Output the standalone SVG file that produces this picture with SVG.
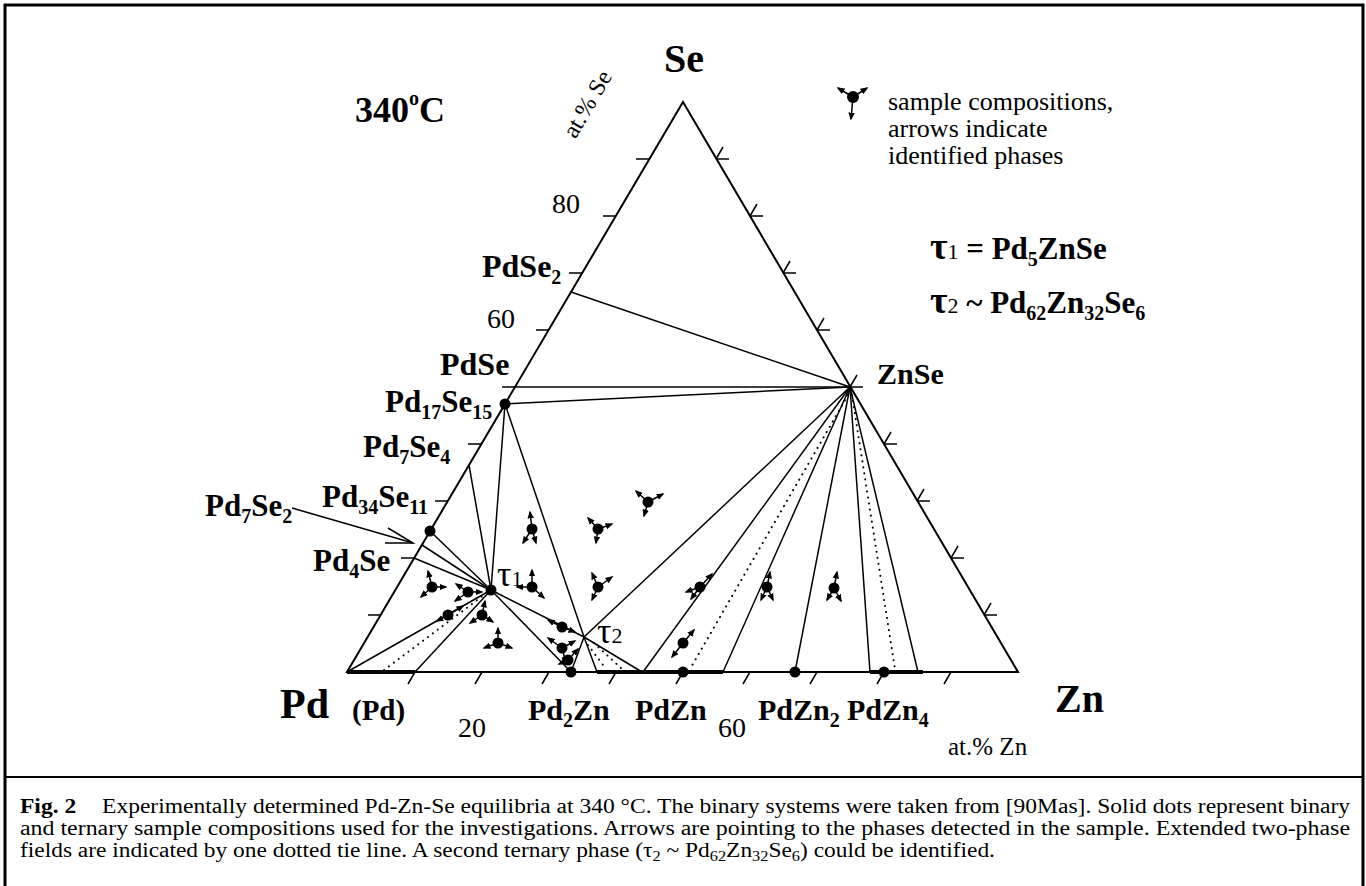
<svg xmlns="http://www.w3.org/2000/svg" width="1366" height="886" viewBox="0 0 1366 886">
<defs>
<marker id="ah" viewBox="0 0 10 10" refX="8" refY="5" markerWidth="8" markerHeight="8" markerUnits="userSpaceOnUse" orient="auto"><path d="M0,1 L10,5 L0,9 z" fill="#000"/></marker>
</defs>
<style>
.edge{stroke:#000;stroke-width:2;fill:none}
.tie{stroke:#000;stroke-width:1.5;fill:none}
.dotl{stroke:#000;stroke-width:2;stroke-dasharray:0.1 6;stroke-linecap:round;fill:none}
.thick{stroke:#000;stroke-width:4}
.tick{stroke:#000;stroke-width:1.5;fill:none}
.ar{stroke:#000;stroke-width:1.5;marker-end:url(#ah)}
.b{font-family:"Liberation Serif",serif;font-weight:bold;fill:#000}
.r{font-family:"Liberation Serif",serif;fill:#000}
</style>
<rect x="0" y="0" width="1366" height="886" fill="#fff"/>
<path d="M5,890V5H1363V890" fill="none" stroke="#000" stroke-width="3"/>
<line x1="5" y1="777" x2="1363" y2="777" stroke="#000" stroke-width="2"/>

<g id="triangle">
<polygon class="edge" points="347,672 1018,672 683,102"/>
<path class="tick" d="M368,615H381M401,558H414M435,501H448M468,444H481M502,387H515M536,330H549M569,273H582M603,216H616M636,159H649"/>
<path class="tick" d="M716,159h13M716,159l7,-12M750,216h13M750,216l7,-12M783,273h13M783,273l7,-12M817,330h13M817,330l7,-12M850,387h13M850,387l7,-12M884,444h13M884,444l7,-12M917,501h13M917,501l7,-12M951,558h13M951,558l7,-12M984,615h13M984,615l7,-12"/>
<path class="tick" d="M415,672l-7,12M482,672l-7,12M549,672l-7,12M616,672l-7,12M683,672l-7,12M750,672l-7,12M817,672l-7,12M884,672l-7,12M951,672l-7,12"/>
<line class="thick" x1="347" y1="672" x2="415" y2="672"/>
<line class="thick" x1="597" y1="672" x2="723" y2="672"/>
<line class="thick" x1="870" y1="672" x2="923" y2="672"/>
</g>

<g id="connectors">
<line class="tie" x1="571" y1="292" x2="850" y2="387"/>
<line class="tie" x1="515" y1="387" x2="850" y2="387"/>
<line class="tie" x1="505" y1="404" x2="850" y2="387"/>
<line class="tie" x1="505" y1="404" x2="491" y2="590"/>
<line class="tie" x1="505" y1="404" x2="584" y2="637"/>
<line class="tie" x1="469" y1="465" x2="491" y2="590"/>
<line class="tie" x1="430" y1="531" x2="491" y2="590"/>
<line class="tie" x1="422" y1="545" x2="491" y2="590"/>
<line class="tie" x1="414" y1="558" x2="491" y2="590"/>
<line class="tie" x1="347" y1="672" x2="491" y2="590"/>
<line class="tie" x1="415" y1="672" x2="491" y2="590"/>
<line class="dotl" x1="384" y1="670" x2="484" y2="595"/>
<line class="tie" x1="491" y1="590" x2="571" y2="672"/>
<line class="tie" x1="491" y1="590" x2="584" y2="637"/>
<line class="tie" x1="584" y1="637" x2="571" y2="672"/>
<line class="tie" x1="584" y1="637" x2="597" y2="672"/>
<line class="tie" x1="584" y1="637" x2="642" y2="672"/>
<line class="dotl" x1="588" y1="645" x2="606" y2="669"/>
<line class="dotl" x1="594" y1="643" x2="622" y2="669"/>
<line class="tie" x1="584" y1="637" x2="850" y2="387"/>
<line class="tie" x1="850" y1="387" x2="643" y2="672"/>
<line class="dotl" x1="848" y1="395" x2="690" y2="669"/>
<line class="tie" x1="850" y1="387" x2="723" y2="672"/>
<line class="tie" x1="850" y1="387" x2="795" y2="672"/>
<line class="tie" x1="850" y1="387" x2="870" y2="672"/>
<line class="dotl" x1="852" y1="395" x2="895" y2="669"/>
<line class="tie" x1="850" y1="387" x2="918" y2="672"/>
<g id="pd7se2-arrow"><line class="tie" x1="292" y1="508" x2="413" y2="543"/><path class="tie" d="M388,528L413,543L385,543"/></g>
</g>

<g id="phase-points" fill="#000">
<circle id="p-pd17se15" cx="505" cy="404" r="5.5"/>
<circle id="p-pd34se11" cx="430" cy="531" r="5.5"/>
<circle id="p-tau1" cx="491" cy="590" r="5.5"/>
<circle id="p-pd2zn" cx="571" cy="672" r="5.5"/>
<circle id="p-pdzn" cx="683" cy="672" r="5.5"/>
<circle id="p-pdzn2" cx="795" cy="672" r="5.5"/>
<circle id="p-pdzn4" cx="884" cy="672" r="5.5"/>
</g>

<g id="samples" fill="#000">
<g id="s1" transform="translate(532,529)"><circle r="5.5"/><line class="ar" x1="0" y1="0" x2="-2" y2="-17"/><line class="ar" x1="0" y1="0" x2="-9" y2="14"/><line class="ar" x1="0" y1="0" x2="4" y2="14"/></g>
<g id="s2" transform="translate(598,529)"><circle r="5.5"/><line class="ar" x1="0" y1="0" x2="-10" y2="-11"/><line class="ar" x1="0" y1="0" x2="14" y2="-5"/><line class="ar" x1="0" y1="0" x2="-2" y2="14"/></g>
<g id="s3" transform="translate(648,502)"><circle r="5.5"/><line class="ar" x1="0" y1="0" x2="-12" y2="-11"/><line class="ar" x1="0" y1="0" x2="15" y2="-8"/><line class="ar" x1="0" y1="0" x2="-4" y2="14"/></g>
<g id="s4" transform="translate(432,587)"><circle r="5.5"/><line class="ar" x1="0" y1="0" x2="-4" y2="-16"/><line class="ar" x1="0" y1="0" x2="14" y2="0"/><line class="ar" x1="0" y1="0" x2="-11" y2="10"/></g>
<g id="s5" transform="translate(468,592)"><circle r="5.5"/><line class="ar" x1="0" y1="0" x2="-12" y2="-8"/><line class="ar" x1="0" y1="0" x2="14" y2="0"/><line class="ar" x1="0" y1="0" x2="-13" y2="9"/></g>
<g id="s6" transform="translate(532,587)"><circle r="5.5"/><line class="ar" x1="0" y1="0" x2="0" y2="-17"/><line class="ar" x1="0" y1="0" x2="-15" y2="0"/><line class="ar" x1="0" y1="0" x2="12" y2="11"/></g>
<g id="s7" transform="translate(598,587)"><circle r="5.5"/><line class="ar" x1="0" y1="0" x2="-6" y2="-14"/><line class="ar" x1="0" y1="0" x2="14" y2="-10"/><line class="ar" x1="0" y1="0" x2="-6" y2="13"/></g>
<g id="s8" transform="translate(448,615)"><circle r="5.5"/><line class="ar" x1="0" y1="0" x2="15" y2="-9"/><line class="ar" x1="0" y1="0" x2="-11" y2="6"/></g>
<g id="s9" transform="translate(482,615)"><circle r="5.5"/><line class="ar" x1="0" y1="0" x2="3" y2="-14"/><line class="ar" x1="0" y1="0" x2="-12" y2="8"/><line class="ar" x1="0" y1="0" x2="11" y2="7"/></g>
<g id="s10" transform="translate(498,643)"><circle r="5.5"/><line class="ar" x1="0" y1="0" x2="0" y2="-15"/><line class="ar" x1="0" y1="0" x2="-14" y2="5"/><line class="ar" x1="0" y1="0" x2="14" y2="5"/></g>
<g id="s11" transform="translate(562,627)"><circle r="5.5"/><line class="ar" x1="0" y1="0" x2="-14" y2="-7"/><line class="ar" x1="0" y1="0" x2="13" y2="5"/></g>
<g id="s12" transform="translate(562,648)"><circle r="5.5"/><line class="ar" x1="0" y1="0" x2="-14" y2="-10"/><line class="ar" x1="0" y1="0" x2="13" y2="-7"/><line class="ar" x1="0" y1="0" x2="4" y2="15"/></g>
<g id="s13" transform="translate(568,660)"><circle r="5.5"/><line class="ar" x1="0" y1="0" x2="10" y2="-11"/><line class="ar" x1="0" y1="0" x2="-9" y2="4"/></g>
<g id="s14" transform="translate(700,587)"><circle r="5.5"/><line class="ar" x1="0" y1="0" x2="12" y2="-13"/><line class="ar" x1="0" y1="0" x2="-14" y2="5"/><line class="ar" x1="0" y1="0" x2="-9" y2="12"/></g>
<g id="s15" transform="translate(767,587)"><circle r="5.5"/><line class="ar" x1="0" y1="0" x2="3" y2="-15"/><line class="ar" x1="0" y1="0" x2="-6" y2="13"/><line class="ar" x1="0" y1="0" x2="6" y2="13"/></g>
<g id="s16" transform="translate(834,588)"><circle r="5.5"/><line class="ar" x1="0" y1="0" x2="3" y2="-16"/><line class="ar" x1="0" y1="0" x2="-7" y2="12"/><line class="ar" x1="0" y1="0" x2="7" y2="13"/></g>
<g id="s17" transform="translate(683,643)"><circle r="5.5"/><line class="ar" x1="0" y1="0" x2="11" y2="-13"/><line class="ar" x1="0" y1="0" x2="-11" y2="14"/></g>
</g>

<g id="labels">
<g id="n-se"><text class="b" x="684" y="72" font-size="40" text-anchor="middle">Se</text></g>
<g id="n-temp"><text class="b" x="355" y="122" font-size="36">340<tspan font-size="20" dy="-17">o</tspan><tspan dy="17">C</tspan></text></g>
<g id="n-atse"><text class="r" font-size="24" text-anchor="middle" transform="translate(594,108) rotate(-59.5)">at.% Se</text></g>
<g id="n-80"><text class="r" x="552" y="213" font-size="28">80</text></g>
<g id="n-60"><text class="r" x="487" y="328" font-size="28">60</text></g>
<g id="n-pdse2"><text class="b" x="482" y="277" font-size="32">PdSe<tspan font-size="20" dy="7">2</tspan></text></g>
<g id="n-pdse"><text class="b" x="440" y="375" font-size="32">PdSe</text></g>
<g id="n-pd17se15"><text class="b" x="385" y="412" font-size="31">Pd<tspan font-size="20" dy="7">17</tspan><tspan dy="-7">Se</tspan><tspan font-size="20" dy="7">15</tspan></text></g>
<g id="n-pd7se4"><text class="b" x="363" y="457" font-size="31">Pd<tspan font-size="20" dy="7">7</tspan><tspan dy="-7">Se</tspan><tspan font-size="20" dy="7">4</tspan></text></g>
<g id="n-pd34se11"><text class="b" x="322" y="507" font-size="31">Pd<tspan font-size="20" dy="7">34</tspan><tspan dy="-7">Se</tspan><tspan font-size="20" dy="7">11</tspan></text></g>
<g id="n-pd7se2"><text class="b" x="205" y="516" font-size="31">Pd<tspan font-size="20" dy="7">7</tspan><tspan dy="-7">Se</tspan><tspan font-size="20" dy="7">2</tspan></text></g>
<g id="n-pd4se"><text class="b" x="313" y="571" font-size="31">Pd<tspan font-size="20" dy="7">4</tspan><tspan dy="-7">Se</tspan></text></g>
<g id="n-tau1"><text class="r" x="497" y="586" font-size="36">τ<tspan font-size="22">1</tspan></text></g>
<g id="n-tau2"><text class="r" x="597" y="643" font-size="36">τ<tspan font-size="22">2</tspan></text></g>
<g id="n-znse"><text class="b" x="877" y="384" font-size="30">ZnSe</text></g>
<g id="n-pd"><text class="b" x="280" y="718" font-size="42">Pd</text></g>
<g id="n-pdss"><text class="b" x="352" y="720" font-size="29">(Pd)</text></g>
<g id="n-20"><text class="r" x="458" y="737" font-size="28">20</text></g>
<g id="n-pd2zn"><text class="b" x="528" y="720" font-size="30">Pd<tspan font-size="20" dy="7">2</tspan><tspan dy="-7">Zn</tspan></text></g>
<g id="n-pdzn"><text class="b" x="635" y="720" font-size="30">PdZn</text></g>
<g id="n-60b"><text class="r" x="718" y="737" font-size="28">60</text></g>
<g id="n-pdzn2"><text class="b" x="758" y="720" font-size="30">PdZn<tspan font-size="20" dy="7">2</tspan></text></g>
<g id="n-pdzn4"><text class="b" x="847" y="720" font-size="30">PdZn<tspan font-size="20" dy="7">4</tspan></text></g>
<g id="n-zn"><text class="b" x="1055" y="712" font-size="40">Zn</text></g>
<g id="n-atzn"><text class="r" x="948" y="755" font-size="25">at.% Zn</text></g>
<g id="n-f1"><text class="b" x="930" y="259" font-size="31"><tspan font-size="38">τ</tspan><tspan font-weight="normal" font-size="22">1</tspan> = Pd<tspan font-size="20" dy="7">5</tspan><tspan dy="-7">ZnSe</tspan></text></g>
<g id="n-f2"><text class="b" x="930" y="313" font-size="31"><tspan font-size="38">τ</tspan><tspan font-weight="normal" font-size="22">2</tspan>  ~ Pd<tspan font-size="20" dy="7">62</tspan><tspan dy="-7">Zn</tspan><tspan font-size="20" dy="7">32</tspan><tspan dy="-7">Se</tspan><tspan font-size="20" dy="7">6</tspan></text></g>
</g>

<g id="legend">
<g id="legend-symbol" fill="#000" transform="translate(853,97)"><circle r="6"/><line class="ar" x1="0" y1="0" x2="-15" y2="-9"/><line class="ar" x1="0" y1="0" x2="14" y2="-9"/><line class="ar" x1="0" y1="0" x2="-2" y2="22"/></g>
<text class="r" x="888" y="110" font-size="26">sample compositions,</text>
<text class="r" x="888" y="137" font-size="26">arrows indicate</text>
<text class="r" x="888" y="164" font-size="26">identified phases</text>
</g>

<g id="caption">
<text class="r" x="20" y="813" font-size="20" textLength="1330" lengthAdjust="spacingAndGlyphs"><tspan font-weight="bold">Fig. 2</tspan><tspan dx="22">Experimentally determined Pd-Zn-Se equilibria at 340 °C. The binary systems were taken from [90Mas]. Solid dots represent binary</tspan></text>
<text class="r" x="20" y="835" font-size="20" textLength="1330" lengthAdjust="spacingAndGlyphs">and ternary sample compositions used for the investigations. Arrows are pointing to the phases detected in the sample. Extended two-phase</text>
<text class="r" x="20" y="857" font-size="20" textLength="975" lengthAdjust="spacingAndGlyphs">fields are indicated by one dotted tie line. A second ternary phase (τ<tspan font-size="14" dy="4">2</tspan><tspan dy="-4"> ~ Pd</tspan><tspan font-size="14" dy="4">62</tspan><tspan dy="-4">Zn</tspan><tspan font-size="14" dy="4">32</tspan><tspan dy="-4">Se</tspan><tspan font-size="14" dy="4">6</tspan><tspan dy="-4">) could be identified.</tspan></text>
</g>
</svg>
